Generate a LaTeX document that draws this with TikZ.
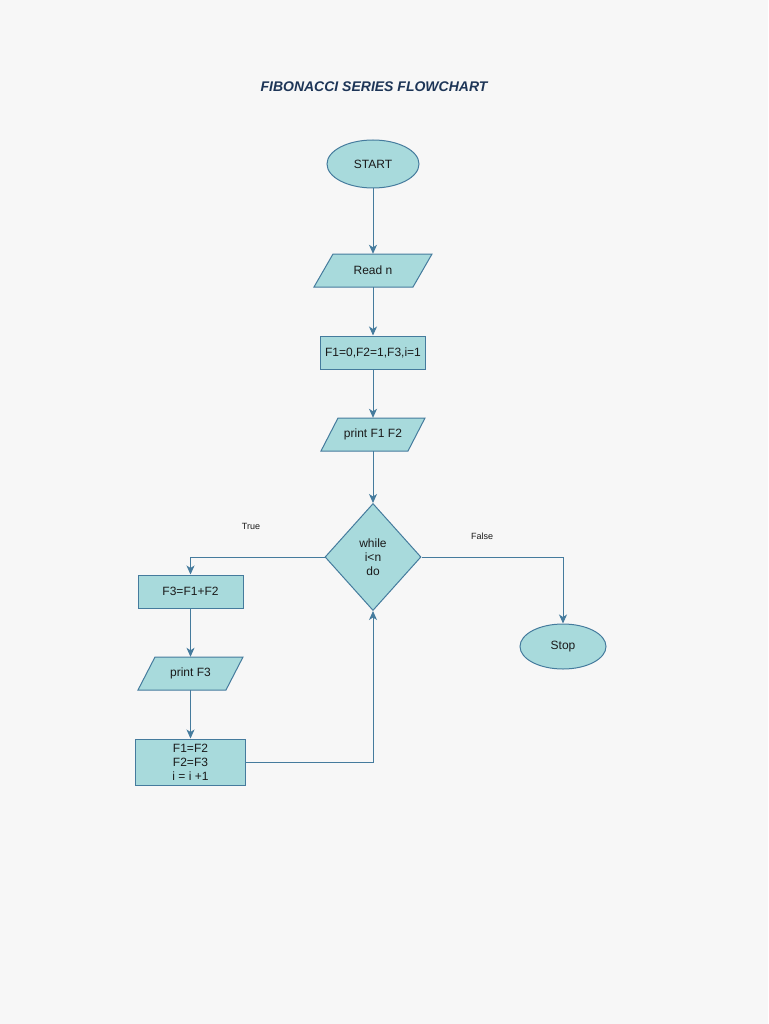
\documentclass[tikz,border=0pt]{standalone}
\usepackage{fontspec}
\setmainfont{Liberation Sans}
\usetikzlibrary{shapes.geometric,arrows.meta}
\definecolor{bgc}{HTML}{F7F7F7}
\definecolor{boxfill}{HTML}{A8DADC}
\definecolor{boxline}{HTML}{457B9D}
\definecolor{titlec}{HTML}{1D3557}
\definecolor{txt}{HTML}{1A1A1A}
\tikzset{
  base/.style={draw=boxline, fill=boxfill, line width=1pt, text=txt, font=\fontsize{12}{14}\selectfont, align=center, inner sep=0pt},
  term/.style={base, ellipse},
  procbox/.style={base, rectangle},
  iobox/.style={rectangle, text=txt, font=\fontsize{12}{14}\selectfont, align=center, inner sep=0pt, minimum height=33pt},
  ioshape/.style={draw=boxline, fill=boxfill, line width=1pt},
  decbox/.style={base, diamond},
  arr/.style={draw=boxline, line width=1pt, -{Stealth[length=9pt,width=8pt,inset=2.5pt]}},
  lbl/.style={text=txt, font=\fontsize{9}{11}\selectfont},
}
% parallelogram: center x, center y, total width, slant
\newcommand\iopara[4]{%
  \draw[ioshape] ({#1-#3/2},{#2+16.5}) -- ({#1-#3/2+#4},{#2-16.5}) -- ({#1+#3/2},{#2-16.5}) -- ({#1+#3/2-#4},{#2+16.5}) -- cycle;}
\begin{document}
\begin{tikzpicture}[x=1pt,y=-1pt]
\fill[bgc] (0,0) rectangle (768,1024);
\useasboundingbox (0,0) rectangle (768,1024);
\node[text=titlec, font=\fontsize{14}{16}\selectfont\bfseries\itshape] (title) at (374,87) {FIBONACCI SERIES FLOWCHART};
\iopara{373}{270.5}{118}{19}
\iopara{373}{434.5}{104}{17}
\iopara{190.5}{673.5}{105}{17}
\node[term, minimum width=92pt, minimum height=48pt] (start) at (373,164) {START};
\node[iobox, minimum width=100pt] (read) at (373,270.5) {Read n};
\node[procbox, minimum width=105pt, minimum height=33pt] (init) at (373,352.5) {F1=0,F2=1,F3,i=1};
\node[iobox, minimum width=88pt] (pr12) at (373,434.5) {print F1 F2};
\node[decbox, minimum width=96pt, minimum height=107pt] (dec) at (373,557) {while\\i<n\\do};
\node[procbox, minimum width=105pt, minimum height=33pt] (f3) at (190.5,591.5) {F3=F1+F2};
\node[iobox, minimum width=88pt] (pr3) at (190.5,673.5) {print F3};
\node[procbox, minimum width=110pt, minimum height=46pt] (upd) at (190.5,762) {F1=F2\\F2=F3\\i = i +1};
\node[term, minimum width=86pt, minimum height=45pt] (stop) at (563,646.5) {Stop};
\node[lbl] (tlbl) at (251,526) {True};
\node[lbl] (flbl) at (482,536) {False};
\draw[arr] (start) -- (read);
\draw[arr] (read) -- (init);
\draw[arr] (init) -- (pr12);
\draw[arr] (pr12) -- (dec);
\draw[arr] (dec.west) -| (f3.north);
\draw[arr] (f3) -- (pr3);
\draw[arr] (pr3) -- (upd);
\draw[arr] (upd.east) -| (dec.south);
\draw[arr] (dec.east) -| (stop.north);
\end{tikzpicture}
\end{document}
